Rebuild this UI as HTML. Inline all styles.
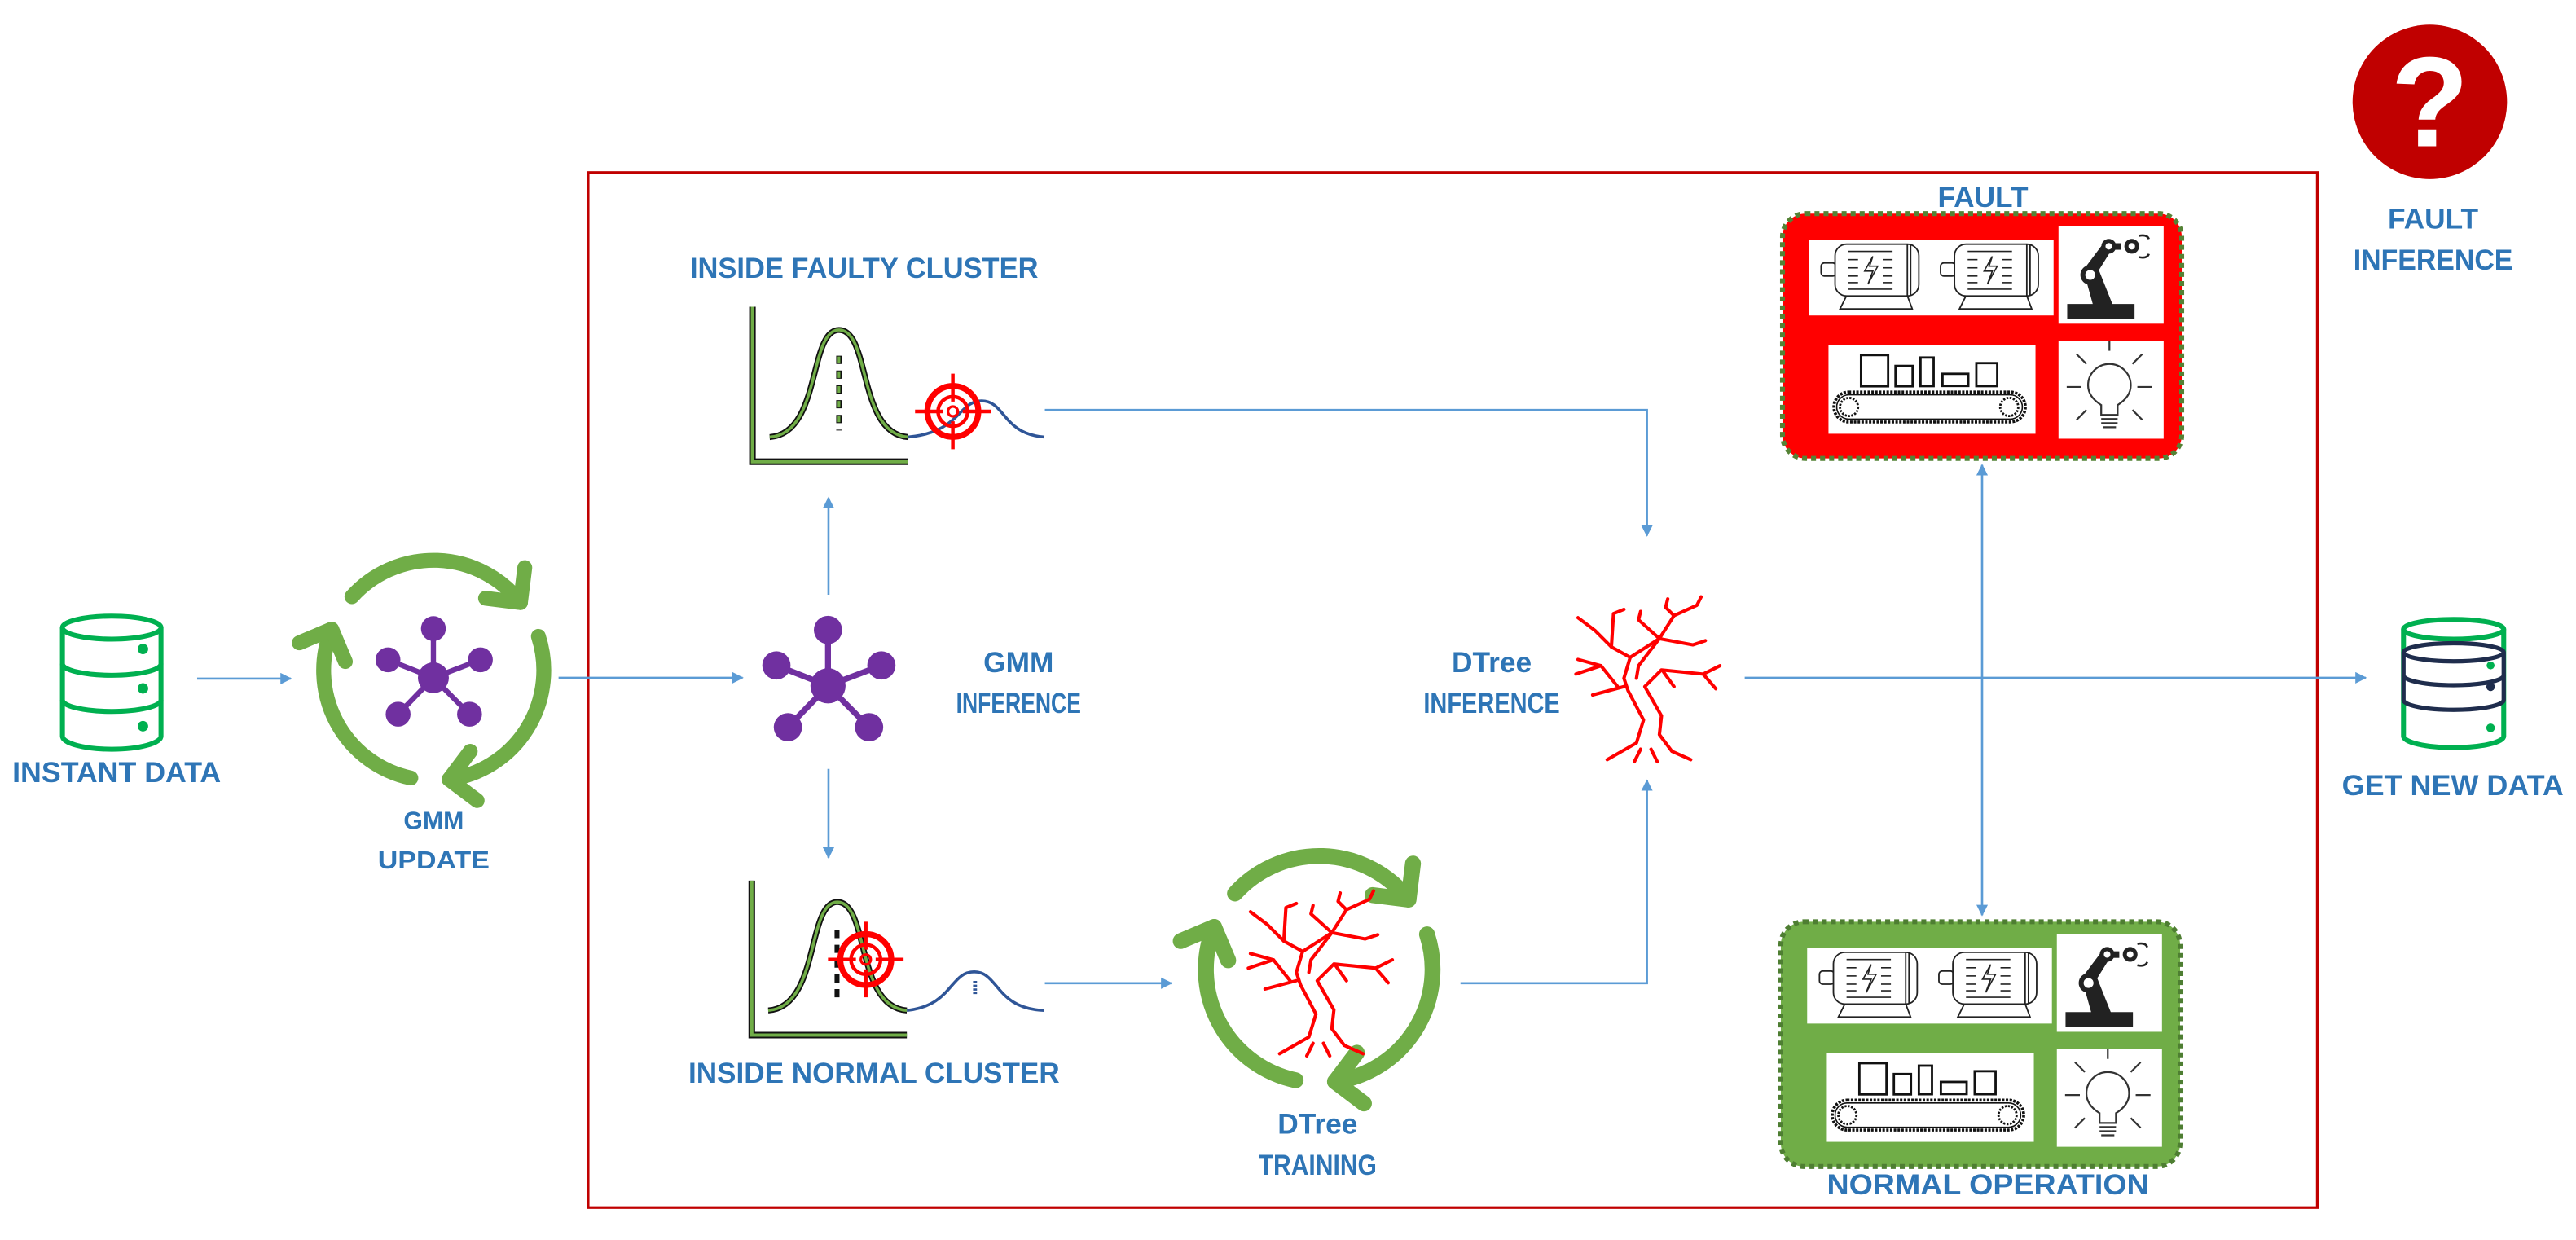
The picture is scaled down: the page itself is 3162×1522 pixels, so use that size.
<!DOCTYPE html>
<html><head><meta charset="utf-8">
<style>html,body{margin:0;padding:0;background:#fff;}svg{display:block;}
text{font-family:"Liberation Sans",sans-serif;font-weight:bold;fill:#2e75b6;}</style></head>
<body>
<svg width="3162" height="1522" viewBox="0 0 1568 754.7" xmlns="http://www.w3.org/2000/svg">
<defs>
<marker id="ah" viewBox="0 0 10 10" refX="9" refY="5" markerWidth="7" markerHeight="7" markerUnits="userSpaceOnUse" orient="auto-start-reverse">
<path d="M0 0 L10 5 L0 10 z" fill="#5b9bd5"/></marker>
<g id="seg"><path d="M100 0 A100 100 0 0 1 -17.36 98.48" fill="none"/><path d="M0.97 124.7 L-17.36 98.48 L8.85 80.2" fill="none"/></g>
<g id="cyc" stroke="#70ad47" stroke-linecap="round" stroke-linejoin="round">
<use href="#seg" transform="rotate(222)"/><use href="#seg" transform="rotate(342)"/><use href="#seg" transform="rotate(102)"/></g>
<g id="tree" fill="none" stroke="#ff0000" stroke-width="8" stroke-linecap="round" stroke-linejoin="round">
<polyline points="1125,495 1195,455 1212,400 1175,330 1165,300 1180,250 1135,225 1095,185 1055,155"/>
<polyline points="1325,495 1280,475 1250,435 1255,390 1215,320 1255,280 1355,290 1395,270"/>
<polyline points="1355,290 1385,325"/><polyline points="1260,285 1285,320"/>
<polyline points="1165,320 1090,340"/><polyline points="1150,320 1110,270 1050,290"/>
<polyline points="1110,270 1055,255"/>
<polyline points="1195,300 1200,270 1250,205 1330,220 1360,210"/>
<polyline points="1250,205 1200,160 1205,140"/>
<polyline points="1250,205 1285,150 1340,125 1350,105"/>
<polyline points="1285,150 1265,130 1270,110"/>
<polyline points="1135,225 1140,145 1165,135"/>
<polyline points="1180,250 1250,205"/>
<polyline points="1190,500 1205,470"/><polyline points="1245,500 1230,470"/>
</g>
<g id="star" fill="#7030a0" stroke="#7030a0">
<g stroke-width="3.6"><line x1="0" y1="0" x2="0" y2="-34"/><line x1="0" y1="0" x2="-31.4" y2="-12.4"/><line x1="0" y1="0" x2="32.5" y2="-12.4"/><line x1="0" y1="0" x2="-24.4" y2="25.2"/><line x1="0" y1="0" x2="25" y2="25.2"/></g>
<g stroke="none"><circle r="10.7"/><circle cx="0" cy="-34" r="8.6"/><circle cx="-31.4" cy="-12.4" r="8.6"/><circle cx="32.5" cy="-12.4" r="8.6"/><circle cx="-24.4" cy="25.2" r="8.6"/><circle cx="25" cy="25.2" r="8.6"/></g>
</g>
<g id="target" fill="none" stroke="#ff0000">
<circle r="15.5" stroke-width="3.6"/><circle r="9" stroke-width="2.2"/><circle r="3" stroke-width="1.6"/>
<line x1="-23" y1="0" x2="-6" y2="0" stroke-width="2.2"/><line x1="6" y1="0" x2="23" y2="0" stroke-width="2.2"/>
<line x1="0" y1="-23" x2="0" y2="-6" stroke-width="2.2"/><line x1="0" y1="6" x2="0" y2="23" stroke-width="2.2"/>
</g>
<g id="motor" fill="#fff" stroke="#222" stroke-width="0.9" stroke-dasharray="none">
<rect x="7.5" y="14" width="9" height="8" rx="2"/>
<path d="M19 42 L23 34 L60 34 L63 42 Z"/>
<rect x="16" y="2.6" width="51" height="31.5" rx="7"/>
<line x1="60" y1="3" x2="60" y2="34"/><line x1="62" y1="3" x2="62" y2="34"/>
<g stroke-width="0.8"><line x1="24" y1="7" x2="51" y2="7"/><line x1="24" y1="30" x2="51" y2="30"/>
<line x1="24" y1="12" x2="30" y2="12"/><line x1="45" y1="12" x2="51" y2="12"/>
<line x1="24" y1="17" x2="30" y2="17"/><line x1="45" y1="17" x2="51" y2="17"/>
<line x1="24" y1="22" x2="30" y2="22"/><line x1="45" y1="22" x2="51" y2="22"/>
<line x1="24" y1="26" x2="30" y2="26"/><line x1="45" y1="26" x2="51" y2="26"/>
<path d="M39 10 L34 19 L39 19 L36 27 L42 16 L37 16 Z" fill="none"/></g>
</g>
<g id="tiles" stroke-dasharray="none">
<rect x="16" y="16" width="149" height="46" fill="#fff" stroke="none"/>
<rect x="168" y="7.5" width="64" height="59.5" fill="#fff" stroke="none"/>
<rect x="28" y="80" width="126" height="54" fill="#fff" stroke="none"/>
<rect x="168" y="77.5" width="64" height="59.5" fill="#fff" stroke="none"/>
<use href="#motor" transform="translate(16,16)"/>
<use href="#motor" transform="translate(88.7,16)"/>
<g transform="translate(168,7.5)" stroke="none" fill="#222">
<rect x="5.3" y="47.5" width="41" height="9"/>
<path d="M21 48 L33 48 L25 28 L16 30 Z"/>
<path d="M15 27 L27 11 L32 15 L22 31 Z"/>
<circle cx="19.3" cy="29.8" r="6"/><circle cx="19.3" cy="29.8" r="3" fill="#fff"/>
<circle cx="30.6" cy="12.4" r="4.5"/><circle cx="30.6" cy="12.4" r="2" fill="#fff"/>
<rect x="34" y="10.5" width="4" height="4"/>
<circle cx="44.6" cy="12.4" r="4.5"/><circle cx="44.6" cy="12.4" r="2" fill="#fff"/>
<path d="M49 6 Q54 5 55 8" fill="none" stroke="#222" stroke-width="1.3"/><path d="M49 19 Q54 20 55 17" fill="none" stroke="#222" stroke-width="1.3"/>
</g>
<g transform="translate(28,80)" fill="none" stroke="#111" stroke-width="1.4">
<rect x="19.8" y="6.1" width="16.5" height="19"/><rect x="40.8" y="12.7" width="10.4" height="12.4"/>
<rect x="56" y="7.6" width="8" height="17.4"/><rect x="69.4" y="17.5" width="15.7" height="7.4"/>
<rect x="90" y="11" width="12.7" height="14"/>
<rect x="3.3" y="28.6" width="116.5" height="18.2" rx="9" stroke-dasharray="1.5 0.8" stroke-width="1.8"/>
<rect x="5" y="30.3" width="113" height="14.8" rx="7.4" stroke-width="0.8"/>
<circle cx="12.5" cy="37.7" r="5.5" stroke-dasharray="1.2 0.8"/><circle cx="110" cy="37.7" r="5.5" stroke-dasharray="1.2 0.8"/>
</g>
<g transform="translate(168,77.5)" fill="none" stroke="#333" stroke-width="1.1">
<path d="M26 45 L26 39 Q18 34 18 27 A13 13 0 1 1 44 27 Q44 34 36 39 L36 45 Z"/>
<line x1="26" y1="47.5" x2="36" y2="47.5"/><line x1="26" y1="50" x2="36" y2="50"/><line x1="27" y1="52.5" x2="35" y2="52.5"/>
<line x1="31" y1="6" x2="31" y2="0"/><line x1="14" y1="28" x2="5" y2="28"/><line x1="48" y1="28" x2="57" y2="28"/>
<line x1="17" y1="14" x2="11" y2="8"/><line x1="45" y1="14" x2="51" y2="8"/>
<line x1="17" y1="42" x2="11" y2="48"/><line x1="45" y1="42" x2="51" y2="48"/>
</g>
</g>
</defs>

<!-- red frame -->
<rect x="358" y="105" width="1052.5" height="630" fill="none" stroke="#c00000" stroke-width="1.6"/>

<!-- connectors -->
<g fill="none" stroke="#5b9bd5" stroke-width="1.3">
<line x1="120" y1="413" x2="177" y2="413" marker-end="url(#ah)"/>
<line x1="340" y1="412.5" x2="452" y2="412.5" marker-end="url(#ah)"/>
<line x1="504.3" y1="362" x2="504.3" y2="303" marker-end="url(#ah)"/>
<line x1="504.3" y1="468" x2="504.3" y2="522" marker-end="url(#ah)"/>
<polyline points="636,249.5 1002.5,249.5 1002.5,326" marker-end="url(#ah)"/>
<line x1="636" y1="598.4" x2="713" y2="598.4" marker-end="url(#ah)"/>
<polyline points="889,598.4 1002.5,598.4 1002.5,475" marker-end="url(#ah)"/>
<line x1="1062" y1="412.5" x2="1440" y2="412.5" marker-end="url(#ah)"/>
<line x1="1206.5" y1="283" x2="1206.5" y2="557" marker-start="url(#ah)" marker-end="url(#ah)"/>
</g>

<!-- instant data DB -->
<g fill="#fff" stroke="#00b050" stroke-width="3">
<path d="M38 382 L38 448 A30 8 0 0 0 98 448 L98 382"/>
<ellipse cx="68" cy="382" rx="30" ry="7"/>
<path d="M38 404 A30 7 0 0 0 98 404" fill="none"/>
<path d="M38 426 A30 7 0 0 0 98 426" fill="none"/>
</g>
<g fill="#00b050"><circle cx="87" cy="395" r="3.2"/><circle cx="87" cy="419" r="3.2"/><circle cx="87" cy="442" r="3.2"/></g>
<text x="71" y="476" font-size="17.5" text-anchor="middle" textLength="127" lengthAdjust="spacingAndGlyphs">INSTANT DATA</text>

<!-- GMM update -->
<use href="#cyc" transform="translate(264,408) scale(0.67)" stroke-width="13.5" fill="none"/>
<use href="#star" transform="translate(263.8,412.5) scale(0.88)"/>
<text x="264" y="504.5" font-size="15" text-anchor="middle">GMM</text>
<text x="264" y="528.5" font-size="15" text-anchor="middle" textLength="68" lengthAdjust="spacingAndGlyphs">UPDATE</text>

<!-- GMM inference -->
<use href="#star" transform="translate(504,417.4)"/>
<text x="620" y="409" font-size="17.5" text-anchor="middle">GMM</text>
<text x="620" y="434" font-size="17.5" text-anchor="middle" textLength="76" lengthAdjust="spacingAndGlyphs">INFERENCE</text>

<!-- top chart -->
<text x="526" y="169" font-size="17.5" text-anchor="middle" textLength="212" lengthAdjust="spacingAndGlyphs">INSIDE FAULTY CLUSTER</text>
<g fill="none">
<path d="M458 186.7 L458 281 L552.8 281" stroke="#111" stroke-width="4"/>
<path d="M458 186.7 L458 281 L552.8 281" stroke="#70ad47" stroke-width="2"/>
<path d="M468.5 266 C500 264 492 200.8 510.7 200.8 C530 200.8 522 264 552.8 266" stroke="#111" stroke-width="3.6"/>
<path d="M468.5 266 C500 264 492 200.8 510.7 200.8 C530 200.8 522 264 552.8 266" stroke="#70ad47" stroke-width="1.8"/>
<line x1="510.7" y1="216.5" x2="510.7" y2="262" stroke="#111" stroke-width="3.4" stroke-dasharray="5 4"/>
<line x1="510.7" y1="217" x2="510.7" y2="261.5" stroke="#70ad47" stroke-width="1.6" stroke-dasharray="4 5"/>
<path d="M552.8 266 C585 263 583 244 597.6 244 C612 244 610 264 635.7 266" stroke="#2f5597" stroke-width="1.8"/>
</g>
<use href="#target" transform="translate(580,250.4)"/>

<!-- bottom chart -->
<g fill="none">
<path d="M457.6 536 L457.6 630 L552 630" stroke="#111" stroke-width="4"/>
<path d="M457.6 536 L457.6 630 L552 630" stroke="#70ad47" stroke-width="2"/>
<path d="M467.6 615 C499 613 491 549 509.7 549 C529 549 521 613 552 615" stroke="#111" stroke-width="3.6"/>
<path d="M467.6 615 C499 613 491 549 509.7 549 C529 549 521 613 552 615" stroke="#70ad47" stroke-width="1.8"/>
<line x1="509.5" y1="566" x2="509.5" y2="610" stroke="#111" stroke-width="3" stroke-dasharray="5 4"/>
<path d="M552 615 C580 612 578 591.5 593 591.5 C608 591.5 606 614 635.6 615" stroke="#2f5597" stroke-width="1.8"/>
<line x1="593.5" y1="597" x2="593.5" y2="605" stroke="#2f5597" stroke-width="2.4" stroke-dasharray="1.3 1"/>
</g>
<use href="#target" transform="translate(527,584)"/>
<text x="532" y="659" font-size="17.5" text-anchor="middle" textLength="226" lengthAdjust="spacingAndGlyphs">INSIDE NORMAL CLUSTER</text>

<!-- DTree training -->
<use href="#cyc" transform="translate(803,590) scale(0.69)" stroke-width="14" fill="none"/>
<use href="#tree" transform="translate(758.6,541) scale(0.254) translate(-1045,-100)"/>
<text x="802" y="690" font-size="17.5" text-anchor="middle">DTree</text>
<text x="802" y="715" font-size="17.5" text-anchor="middle" textLength="72" lengthAdjust="spacingAndGlyphs">TRAINING</text>

<!-- DTree inference -->
<use href="#tree" transform="translate(958,362) scale(0.254) translate(-1045,-100)"/>
<text x="908" y="409" font-size="17.5" text-anchor="middle">DTree</text>
<text x="908" y="434" font-size="17.5" text-anchor="middle" textLength="83" lengthAdjust="spacingAndGlyphs">INFERENCE</text>

<!-- fault box -->
<text x="1207" y="126" font-size="17.5" text-anchor="middle">FAULT</text>
<rect x="1085" y="130" width="243" height="149" rx="14" fill="#ff0000" stroke="#548235" stroke-width="3" stroke-dasharray="3 2.5"/>
<use href="#tiles" transform="translate(1085,130)"/>
<!-- normal box -->
<rect x="1084" y="561" width="243" height="149" rx="14" fill="#70ad47" stroke="#4e7e32" stroke-width="3" stroke-dasharray="3 2.5"/>
<use href="#tiles" transform="translate(1084,561)"/>
<text x="1210" y="727" font-size="17.5" text-anchor="middle" textLength="196" lengthAdjust="spacingAndGlyphs">NORMAL OPERATION</text>

<!-- fault inference -->
<ellipse cx="1479" cy="62" rx="47" ry="47" fill="#c00000"/>
<text x="1479" y="89" font-size="78" text-anchor="middle" style="fill:#fff">?</text>
<text x="1481" y="139" font-size="17.5" text-anchor="middle">FAULT</text>
<text x="1481" y="164" font-size="17.5" text-anchor="middle" textLength="97" lengthAdjust="spacingAndGlyphs">INFERENCE</text>

<!-- get new data DB -->
<g fill="#fff" stroke="#00b050" stroke-width="3">
<path d="M1463 383 L1463 448 A30.5 7 0 0 0 1524 448 L1524 383"/>
<ellipse cx="1493.5" cy="383" rx="30.5" ry="6"/>
</g>
<g fill="#fff" stroke="#1f2d4d" stroke-width="2.6">
<path d="M1463 397 L1463 426 A30.5 6 0 0 0 1524 426 L1524 397"/>
<ellipse cx="1493.5" cy="397" rx="30.5" ry="5.5"/>
<path d="M1463 411 A30.5 6 0 0 0 1524 411" fill="none"/>
</g>
<circle cx="1516" cy="418" r="2.6" fill="#1f2d4d"/>
<circle cx="1516" cy="405" r="2.4" fill="#00b050"/><circle cx="1516" cy="443" r="2.6" fill="#00b050"/>
<text x="1493" y="484" font-size="17.5" text-anchor="middle" textLength="135" lengthAdjust="spacingAndGlyphs">GET NEW DATA</text>
</svg>
</body></html>
